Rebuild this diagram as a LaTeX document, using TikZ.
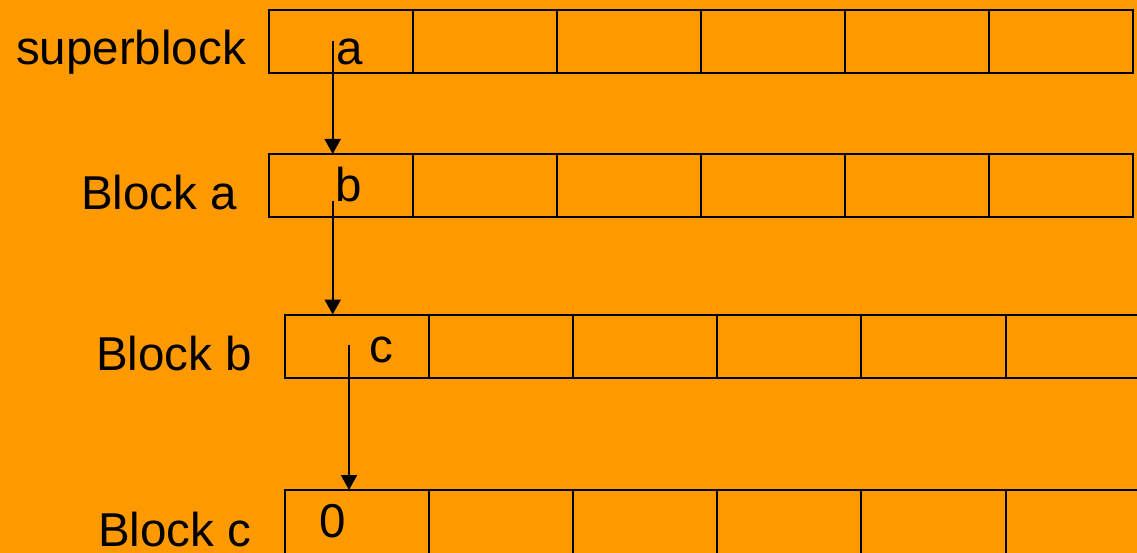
\documentclass[tikz,border=0pt]{standalone}
\usepackage{fontspec}
\setmainfont{Liberation Sans}
\usetikzlibrary{arrows.meta}
\definecolor{bgorange}{HTML}{FF9900}
\begin{document}
\begin{tikzpicture}[x=1pt,y=-1pt,
  cell/.style={draw=black,line width=2pt,minimum width=144.1pt,minimum height=63.5pt,inner sep=0pt,outer sep=0pt},
  lbl/.style={font=\fontsize{47.5}{52}\selectfont,anchor=base west,inner sep=0pt,text=black},
  ptr/.style={draw=black,line width=2pt,-{Triangle[length=15pt,width=16pt]}}]
\fill[bgorange] (0,0) rectangle (1137,553);
\useasboundingbox (0,0) rectangle (1137,553);
\begin{scope}
\clip (0,0) rectangle (1137,553);
% rows: name, left x, top y
\foreach \r/\xl/\yt in {1/268.5/10, 2/268.5/154, 3/285/314.5, 4/285/490}{
  \foreach \i in {1,...,6}{
    \node[cell] (r\r c\i) at ({\xl+144.1*(\i-0.5)},{\yt+31.75}) {};
  }
}
\end{scope}
% row labels
\node[lbl] (lsuper) at (16,65) {superblock};
\node[lbl] (la) at (81,210) {Block a};
\node[lbl] (lb) at (96,370) {Block b};
\node[lbl] (lc) at (98,546) {Block c};
% cell contents
\node[lbl] (ta) at (336,65) {a};
\node[lbl] (tb) at (335,202) {b};
\node[lbl] (tc) at (369,362) {c};
\node[lbl] (t0) at (319,537) {0};
% pointer start coordinates
\coordinate (s1) at (332.7,41);
\coordinate (s2) at (332.7,201);
\coordinate (s3) at (349,345);
\draw[ptr] (s1) -- (s1 |- r2c1.north);
\draw[ptr] (s2) -- (s2 |- r3c1.north);
\draw[ptr] (s3) -- (s3 |- r4c1.north);
\end{tikzpicture}
\end{document}
